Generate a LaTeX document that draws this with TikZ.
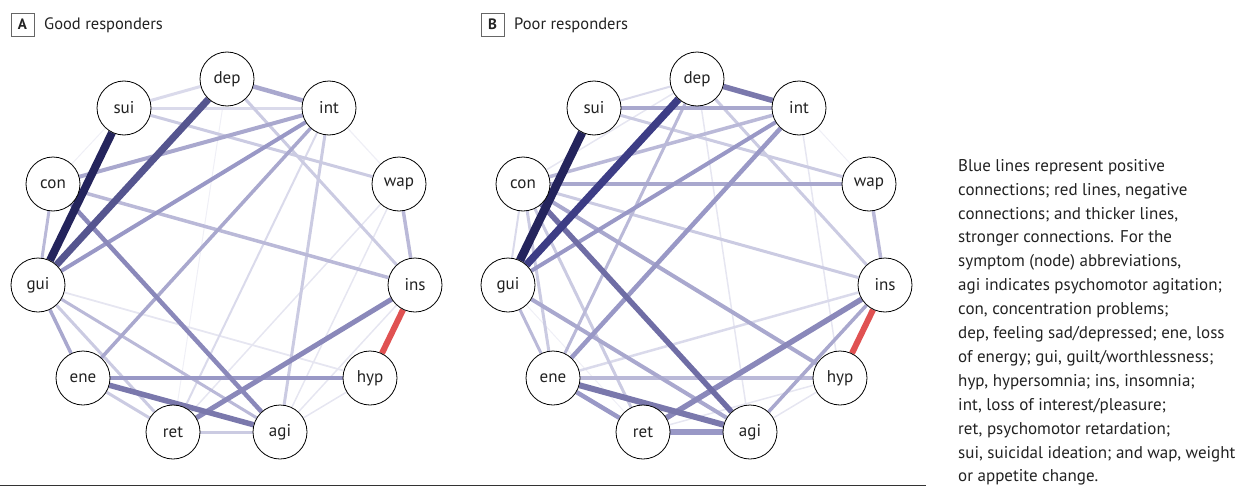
\documentclass[tikz,border=0pt]{standalone}
\usepackage{fontspec}
\setmainfont{PT Sans}
\usetikzlibrary{backgrounds}
\definecolor{ea}{HTML}{24245C}
\definecolor{eb}{HTML}{3D3D85}
\definecolor{ec}{HTML}{55558F}
\definecolor{ed}{HTML}{6F6DA5}
\definecolor{ee}{HTML}{7A78AC}
\definecolor{ef}{HTML}{8A88BA}
\definecolor{eg}{HTML}{9998C6}
\definecolor{eh}{HTML}{A9A8CE}
\definecolor{ei}{HTML}{BAB9D8}
\definecolor{ej}{HTML}{CBCBE2}
\definecolor{ek}{HTML}{DADAEB}
\definecolor{el}{HTML}{E6E6F1}
\definecolor{em}{HTML}{EFEFF6}
\definecolor{negred}{HTML}{E05252}
\definecolor{inkgray}{HTML}{222222}
\begin{document}
\begin{tikzpicture}[x=1pt,y=-1pt,
  sym/.style={circle, draw=black, line width=0.8pt, fill=white, minimum size=54pt, inner sep=0pt,
    font=\fontsize{17}{20}\selectfont, text=inkgray},
  link/.style 2 args={draw=#1, line width=#2pt},
  neglink/.style={draw=negred, line width=6pt},
  panelbox/.style={draw=black!60, line width=0.8pt, minimum size=23pt, inner sep=0pt,
    font=\bfseries\fontsize{15}{17}\selectfont, text=inkgray},
  paneltitle/.style={anchor=west, inner sep=0pt, font=\fontsize{16.5}{19}\selectfont, text=inkgray},
  legend/.style={anchor=north west, inner sep=0pt, align=left,
    font=\fontsize{17}{23.9}\selectfont, text=inkgray},
  rule/.style={draw=black!80, line width=1.5pt}
]
\useasboundingbox (0,0) rectangle (1246,487);

% panel labels
\node[panelbox] (boxA) at (22.5,24.5) {A};
\node[paneltitle] (titleA) at (44,25) {Good responders};
\node[panelbox] (boxB) at (492.5,24.5) {B};
\node[paneltitle] (titleB) at (514,25) {Poor responders};

% symptom nodes
\foreach \p/\dx in {a/0,b/470} {
  \node[sym] (\p-dep) at (227+\dx,79)  {dep};
  \node[sym] (\p-int) at (329+\dx,108) {int};
  \node[sym] (\p-wap) at (399+\dx,184) {wap};
  \node[sym] (\p-ins) at (415+\dx,285) {ins};
  \node[sym] (\p-hyp) at (370+\dx,378) {hyp};
  \node[sym] (\p-agi) at (280+\dx,432) {agi};
  \node[sym] (\p-ret) at (173+\dx,432) {ret};
  \node[sym] (\p-ene) at (83+\dx,378)  {ene};
  \node[sym] (\p-gui) at (38+\dx,285)  {gui};
  \node[sym] (\p-con) at (53+\dx,184)  {con};
  \node[sym] (\p-sui) at (124+\dx,108) {sui};
}

\begin{pgfonlayer}{background}
% panel A edges
\foreach \u/\v/\c/\w in {
  dep/ret/em/1, con/sui/em/1, int/wap/em/1.2, hyp/agi/el/1.5, wap/ret/el/1.5,
  wap/agi/el/1.5, ins/agi/el/1.5, gui/hyp/el/1.8, int/ret/ek/2, sui/dep/ek/3,
  sui/int/ek/3, ret/agi/ej/3, dep/ins/ej/3, sui/wap/ej/3, gui/ret/ej/3,
  ene/ret/ej/3, int/agi/ej/3, gui/agi/ei/3, con/ins/ei/3.5, con/gui/ei/3,
  wap/ins/ei/3.5, int/ene/eh/3.5, gui/ene/eh/3.5, int/con/eh/4, dep/int/eh/4.5,
  int/gui/eg/4, ene/hyp/eg/4.5, con/agi/ef/4.5, ret/ins/ef/5, ene/agi/ee/5.5,
  dep/gui/ec/7, sui/gui/ea/8}
  \draw[link={\c}{\w}] (a-\u) -- (a-\v);
\draw[neglink] (a-ins) -- (a-hyp);
% panel B edges
\foreach \u/\v/\c/\w in {
  gui/ret/em/1, int/wap/em/1, int/hyp/el/1.5, ret/hyp/el/1.5, agi/hyp/el/1.5,
  dep/agi/el/1.5, con/dep/el/1.5, sui/dep/ek/2, con/gui/ek/2, ene/ins/ek/2.5,
  sui/wap/ej/3, con/ins/ej/3, dep/ins/ej/3, con/ret/ej/3, con/ene/ej/3,
  gui/ene/ei/3, dep/ene/ei/3, ene/hyp/ei/3.5, int/con/ei/3.5, wap/ins/ei/3.5,
  agi/ins/eh/3.5, sui/int/eh/4, gui/agi/eh/4, con/wap/eh/4, con/hyp/eh/4,
  int/gui/eg/4, int/ene/eg/4.5, ene/ret/eg/4.5, ret/agi/eg/5.5, ret/ins/ef/5.5,
  con/agi/ed/5.5, ene/agi/ee/6, dep/int/ee/5.5, dep/gui/eb/7.5, sui/gui/ea/8.5}
  \draw[link={\c}{\w}] (b-\u) -- (b-\v);
\draw[neglink] (b-ins) -- (b-hyp);
\end{pgfonlayer}

% bottom rule
\draw[rule] (0,485.5) -- (926,485.5);

% legend
\node[legend] (legendtext) at (958,159) {Blue lines represent positive\\
connections; red lines, negative\\
connections; and thicker lines,\\
stronger connections. For the\\
symptom (node) abbreviations,\\
agi indicates psychomotor agitation;\\
con, concentration problems;\\
dep, feeling sad/depressed; ene, loss\\
of energy; gui, guilt/worthlessness;\\
hyp, hypersomnia; ins, insomnia;\\
int, loss of interest/pleasure;\\
ret, psychomotor retardation;\\
sui, suicidal ideation; and wap, weight\\
or appetite change.};
\end{tikzpicture}
\end{document}
